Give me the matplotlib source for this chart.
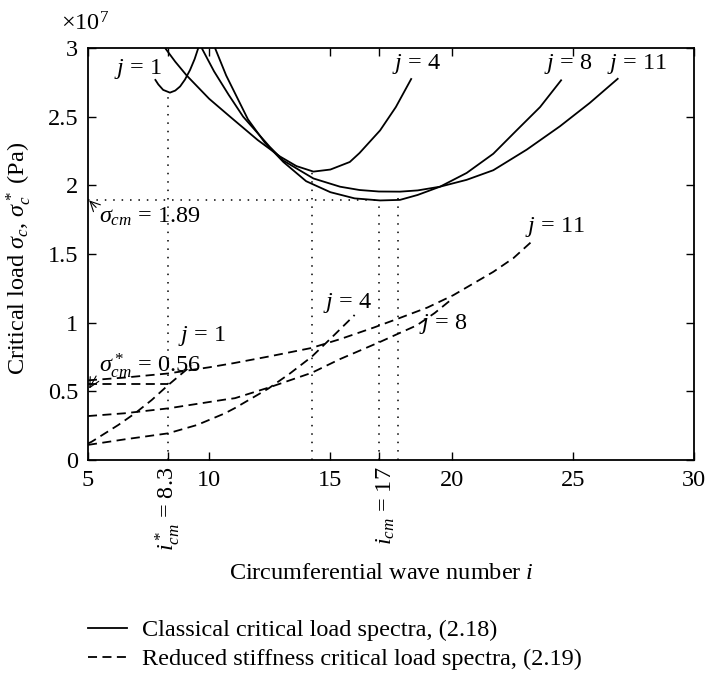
import matplotlib
matplotlib.use("Agg")
import matplotlib.pyplot as plt
from matplotlib.lines import Line2D

plt.rcParams['font.family'] = ['Liberation Serif', 'DejaVu Serif']
plt.rcParams['mathtext.fontset'] = 'custom'
plt.rcParams['mathtext.rm'] = 'Liberation Serif'
plt.rcParams['mathtext.it'] = 'Liberation Serif:italic'
plt.rcParams['mathtext.bf'] = 'Liberation Serif:bold'
FS = 17.5

# ---- classical critical load spectra (units of 1e7 Pa) ----
c1_i = [7.76, 7.9, 8.1, 8.38, 8.6, 8.8, 9.0, 9.21, 9.4, 9.55]
c1_s = [2.773, 2.735, 2.695, 2.675, 2.69, 2.72, 2.77, 2.84, 2.92, 3.0]

c4_i = [8.18, 8.6, 9.07, 10.0, 10.86, 12.0, 12.92, 13.6, 14.3, 15.0, 15.8, 16.2, 17.05, 17.7, 18.35]
c4_s = [3.0, 2.90, 2.80, 2.63, 2.50, 2.33, 2.21, 2.14, 2.10, 2.115, 2.17, 2.235, 2.40, 2.57, 2.78]

c8_i = [10.24, 10.7, 11.6, 12.3, 13.06, 14.0, 15.0, 16.0, 17.05, 17.87, 18.6, 19.52, 20.62, 21.72, 22.68, 23.65, 24.54]
c8_s = [3.0, 2.80, 2.48, 2.31, 2.17, 2.03, 1.95, 1.905, 1.89, 1.894, 1.93, 1.99, 2.09, 2.23, 2.40, 2.57, 2.77]

c11_i = [9.69, 10.2, 10.8, 11.4, 12.0, 12.5, 13.06, 14.3, 15.4, 16.2, 17.0, 17.87, 18.6, 19.52, 20.62, 21.72, 23.1, 24.47, 25.7, 26.88]
c11_s = [3.0, 2.83, 2.66, 2.50, 2.38, 2.28, 2.18, 2.05, 1.99, 1.966, 1.955, 1.954, 1.963, 1.99, 2.04, 2.11, 2.26, 2.43, 2.60, 2.78]

# ---- reduced stiffness critical load spectra ----
r1_i = [5.0, 5.15, 6.25, 6.94, 7.63, 8.31, 9.28]
r1_s = [0.12, 0.133, 0.255, 0.34, 0.437, 0.546, 0.69]

r4_i = [5.0, 6.5, 8.3, 9.5, 10.65, 11.06, 12.44, 13.33, 14.23, 15.1, 16.0]
r4_s = [0.11, 0.15, 0.194, 0.255, 0.34, 0.378, 0.52, 0.63, 0.752, 0.90, 1.056]

r8_i = [5.0, 6.5, 8.31, 10.65, 11.06, 12.5, 14.23, 15.4, 17.05, 17.8, 18.56, 19.3, 20.0]
r8_s = [0.32, 0.34, 0.376, 0.44, 0.45, 0.53, 0.635, 0.735, 0.86, 0.92, 0.98, 1.07, 1.17]

r11_i = [5.0, 6.5, 8.3, 10.0, 11.0, 12.5, 14.2, 15.4, 16.8, 17.8, 19.0, 20.07, 21.72, 22.55, 23.3]
r11_s = [0.58, 0.60, 0.63, 0.675, 0.705, 0.755, 0.815, 0.88, 0.965, 1.03, 1.11, 1.20, 1.37, 1.47, 1.59]

# critical points
i_cm, s_cm = 17.0, 1.89
i_cm_star, s_cm_star = 8.3, 0.55
vlines_i = [8.3, 14.24, 17.0, 17.8]
vlines_top = [2.675, 2.10, 1.89, 1.953]

x_ticks = [5, 10, 15, 20, 25, 30]
y_ticks = [0, 0.5, 1, 1.5, 2, 2.5, 3]
y_ticklabels = ['0', '0.5', '1', '1.5', '2', '2.5', '3']

fig = plt.figure(figsize=(7.08, 6.73), dpi=100)
ax = fig.add_axes([88/708, 1-460/673, (694-88)/708, (460-48)/673])

lw = 1.3
for xi, yi in [(c1_i, c1_s), (c4_i, c4_s), (c8_i, c8_s), (c11_i, c11_s)]:
    ax.plot(xi, yi, color='black', lw=lw, solid_capstyle='butt')
for xi, yi in [(r1_i, r1_s), (r4_i, r4_s), (r8_i, r8_s), (r11_i, r11_s)]:
    ax.plot(xi, yi, color='black', lw=lw, linestyle=(0, (5, 3)))

# marker lines
dot = (0, (1, 4.5))
ax.plot([5, i_cm], [s_cm, s_cm], color='black', lw=1.1, linestyle=dot)
ax.plot([5, i_cm_star], [s_cm_star, s_cm_star], color='black', lw=lw, linestyle=(0, (5, 3)))
for xv, top in zip(vlines_i, vlines_top):
    ax.plot([xv, xv], [0, top], color='black', lw=1.1, linestyle=dot)

ax.set_xlim(5, 30)
ax.set_ylim(0, 3)
ax.set_xticks(x_ticks + [8.3, 17])
ax.set_xticklabels([str(t) for t in x_ticks] + ['', ''])
ax.set_yticks(y_ticks)
ax.set_yticklabels(y_ticklabels)
ax.tick_params(direction='in', top=True, right=True, length=6, width=1.0,
               labelsize=FS, pad=7)
for sp in ax.spines.values():
    sp.set_linewidth(1.3)

# rotated x labels
ax.text(8.3, -0.05, r'$i^*_{cm}$ = 8.3', rotation=90, ha='center', va='top', fontsize=FS)
ax.text(17.3, -0.05, r'$i_{cm}$ = 17', rotation=90, ha='center', va='top', fontsize=FS)

ax.set_xlabel(r'Circumferential wave number $i$', fontsize=FS)
ax.set_ylabel(r'Critical load $\sigma_c$, $\sigma^*_c$ (Pa)', fontsize=FS)
ax.xaxis.set_label_coords(0.485, -0.25)
ax.yaxis.set_label_coords(-0.09, 0.49)

ax.text(-0.005, 1.03, r'$\times$10$^7$', transform=ax.transAxes, fontsize=FS, ha='center', va='bottom')

# curve labels
lab = dict(fontsize=FS, ha='center', va='center')
ax.text(7.07, 2.85, r'$j$ = 1', **lab)
ax.text(18.55, 2.88, r'$j$ = 4', **lab)
ax.text(24.8, 2.88, r'$j$ = 8', **lab)
ax.text(27.65, 2.88, r'$j$ = 11', **lab)
ax.text(9.7, 0.90, r'$j$ = 1', **lab)
ax.text(15.7, 1.14, r'$j$ = 4', **lab)
ax.text(19.64, 0.99, r'$j$ = 8', **lab)
ax.text(24.26, 1.70, r'$j$ = 11', **lab)

ax.annotate(r'$\sigma_{cm}$ = 1.89', xy=(5.05, s_cm), xytext=(5.45, 1.77),
            fontsize=FS, ha='left', va='center',
            arrowprops=dict(arrowstyle='->', lw=0.8, color='black', shrinkA=0, shrinkB=0,
                            relpos=(0, 0.8)))
ax.annotate(r'$\sigma^*_{cm}$ = 0.56', xy=(5.05, 0.52), xytext=(5.45, 0.69),
            fontsize=FS, ha='left', va='center',
            arrowprops=dict(arrowstyle='->', lw=0.8, color='black', shrinkA=0, shrinkB=0,
                            relpos=(0, 0.3)))

handles = [Line2D([], [], color='black', lw=lw),
           Line2D([], [], color='black', lw=lw, linestyle=(0, (5, 3)))]
labels = ['Classical critical load spectra, (2.18)',
          'Reduced stiffness critical load spectra, (2.19)']
fig.legend(handles, labels, loc='upper left', bbox_to_anchor=(88/708, 1-619/673),
           frameon=False, fontsize=FS, handlelength=1.6, handletextpad=0.62,
           labelspacing=0.3, borderaxespad=0, borderpad=0)

fig.savefig('out.png', dpi=100)
